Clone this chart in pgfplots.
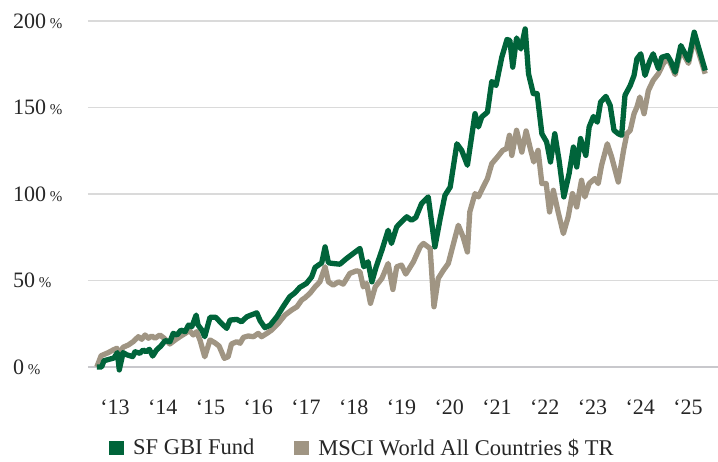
\documentclass[border=0pt]{standalone}
\usepackage{fontspec}
\setmainfont{Liberation Serif}
\usepackage{pgfplots}
\usepackage{pgfplotstable}
\pgfplotsset{compat=1.18}
\definecolor{fundgreen}{HTML}{00643A}
\definecolor{msci}{HTML}{A09583}
\definecolor{gridgray}{HTML}{DADADA}
\definecolor{zerogray}{HTML}{C8C8CC}
\newcommand\pct{\,{\fontsize{15}{15}\selectfont\%}}

\pgfplotstableread{
x y
2012.62 0
2012.72 0
2012.77 3.6
2012.90 4.6
2012.98 5.2
2013.05 8.3
2013.09 -1.7
2013.17 8.3
2013.25 7.0
2013.37 6.0
2013.42 8.8
2013.52 7.9
2013.59 9.8
2013.65 8.8
2013.72 10.2
2013.79 6.3
2013.87 9.8
2013.96 12.1
2014.05 15.2
2014.15 14.6
2014.22 19.4
2014.30 18.5
2014.38 21.3
2014.47 20.4
2014.54 24.2
2014.61 23.3
2014.70 30.0
2014.74 24.2
2014.82 21.3
2014.88 17.5
2014.99 28.7
2015.11 28.7
2015.23 25.2
2015.34 22.3
2015.41 27.1
2015.55 27.5
2015.65 26.1
2015.76 29.0
2015.85 30.0
2015.97 31.3
2016.04 26.7
2016.14 22.7
2016.25 24.2
2016.39 29.0
2016.52 34.8
2016.66 40.6
2016.77 42.9
2016.87 46.0
2017.01 48.3
2017.12 52.1
2017.19 57.5
2017.33 60.2
2017.40 69.4
2017.47 60.2
2017.57 59.8
2017.71 59.4
2017.85 62.7
2017.99 65.6
2018.13 68.5
2018.21 57.9
2018.30 60.8
2018.38 49.2
2018.47 57.9
2018.59 67.5
2018.72 79.0
2018.79 71.4
2018.90 81.0
2019.00 83.9
2019.11 86.8
2019.21 84.8
2019.30 86.4
2019.42 94.4
2019.56 98.3
2019.70 69.4
2019.81 85.8
2019.91 99.2
2020.02 104.0
2020.16 129.0
2020.26 125.2
2020.38 116.6
2020.54 146.4
2020.61 138.7
2020.68 144.5
2020.80 147.3
2020.89 165.0
2020.98 162.7
2021.10 179.0
2021.21 189.3
2021.27 188.7
2021.33 173.3
2021.41 190.2
2021.50 183.8
2021.59 195.4
2021.66 169.5
2021.76 158.0
2021.84 158.0
2021.94 134.8
2022.04 130.0
2022.12 118.5
2022.21 134.8
2022.30 119.4
2022.40 98.3
2022.51 111.8
2022.60 127.1
2022.67 115.6
2022.75 132.0
2022.86 122.3
2022.93 138.7
2023.02 144.8
2023.10 141.5
2023.17 153.1
2023.28 156.4
2023.37 151.2
2023.45 136.8
2023.54 134.8
2023.61 133.9
2023.68 157.0
2023.79 162.7
2023.87 168.5
2023.93 178.1
2024.01 181.0
2024.10 168.5
2024.19 176.2
2024.27 181.0
2024.38 172.4
2024.45 179.0
2024.57 180.0
2024.64 176.7
2024.73 170.4
2024.85 185.8
2024.94 181.0
2025.01 177.2
2025.13 193.5
2025.22 184.8
2025.36 171.4
}\fundtable

\pgfplotstableread{
x y
2012.62 0
2012.71 6.5
2012.86 8.3
2012.96 9.8
2013.04 10.8
2013.08 6.9
2013.17 11.4
2013.28 12.7
2013.38 14.6
2013.49 17.5
2013.56 16.0
2013.63 18.5
2013.70 16.6
2013.77 17.9
2013.84 16.6
2013.94 18.5
2014.03 16.6
2014.15 13.3
2014.26 15.6
2014.36 17.5
2014.47 19.4
2014.56 21.0
2014.64 18.5
2014.71 20.4
2014.78 15.6
2014.82 11.7
2014.88 5.9
2014.99 15.6
2015.09 14.0
2015.18 12.1
2015.29 5.0
2015.37 5.9
2015.44 13.3
2015.55 14.6
2015.62 13.7
2015.69 17.1
2015.79 17.9
2015.90 17.5
2016.00 19.4
2016.07 17.5
2016.18 19.4
2016.28 21.3
2016.42 25.2
2016.56 30.0
2016.70 32.9
2016.81 34.8
2016.91 38.7
2016.98 40.0
2017.08 42.5
2017.19 46.3
2017.29 49.2
2017.40 57.9
2017.47 49.2
2017.57 47.3
2017.68 49.2
2017.78 47.9
2017.92 54.1
2018.06 55.6
2018.13 55.0
2018.20 46.3
2018.27 48.3
2018.35 36.8
2018.45 46.3
2018.59 51.2
2018.72 59.8
2018.82 44.8
2018.90 57.9
2019.00 58.9
2019.09 53.7
2019.25 60.8
2019.39 69.4
2019.46 71.4
2019.60 68.5
2019.68 34.8
2019.77 51.2
2019.88 56.0
2019.98 59.8
2020.08 70.4
2020.19 81.9
2020.29 75.2
2020.38 66.5
2020.43 89.6
2020.54 100.2
2020.61 98.3
2020.71 104.0
2020.80 108.9
2020.89 117.5
2021.01 121.4
2021.12 125.2
2021.20 126.2
2021.26 133.9
2021.31 122.3
2021.41 136.8
2021.52 124.2
2021.61 136.4
2021.69 127.1
2021.77 118.5
2021.86 125.2
2021.94 106.0
2022.03 106.0
2022.10 89.6
2022.18 102.1
2022.28 89.6
2022.39 77.1
2022.49 86.7
2022.58 100.2
2022.67 92.5
2022.77 107.9
2022.84 98.3
2022.93 106.0
2023.05 108.9
2023.12 106.0
2023.19 116.6
2023.31 129.0
2023.40 121.4
2023.54 106.9
2023.65 125.2
2023.72 134.8
2023.79 136.8
2023.87 146.4
2023.93 150.2
2023.99 156.0
2024.08 146.4
2024.17 159.8
2024.27 165.6
2024.38 169.5
2024.48 175.2
2024.57 178.5
2024.64 175.0
2024.73 169.0
2024.85 183.0
2024.94 179.0
2025.01 175.5
2025.13 190.0
2025.22 182.0
2025.36 169.5
}\mscitable

\begin{document}
\begin{tikzpicture}
\useasboundingbox (-88pt,-80.2pt) rectangle (630pt,380.8pt);
\begin{axis}[
  scale only axis,
  width=630pt, height=368.5pt,
  xmin=2012.435, xmax=2025.628,
  ymin=-8, ymax=205,
  axis line style={draw=none},
  major tick length=0pt,
  xtick={2013,2014,2015,2016,2017,2018,2019,2020,2021,2022,2023,2024,2025},
  xticklabels={‘13,‘14,‘15,‘16,‘17,‘18,‘19,‘20,‘21,‘22,‘23,‘24,‘25},
  ytick={50,100,150,200},
  yticklabels={50\pct,100\pct,150\pct,200\pct},
  extra y ticks={0},
  extra y tick labels={0\pct},
  extra y tick style={grid style={draw=zerogray, line width=2.6pt}},
  ymajorgrids,
  grid style={draw=gridgray, line width=1.6pt},
  every tick label/.append style={font=\fontsize{22}{24}\selectfont, text=black!85},
  yticklabel style={anchor=west, inner sep=0pt, xshift=-75pt},
  xticklabel style={anchor=north, inner sep=0pt, yshift=-19pt},
  legend columns=2,
  legend style={draw=none, fill=none, at={(axis description cs:0,0)}, anchor=west,
    xshift=21pt, yshift=-67pt, inner sep=0pt,
    font=\fontsize{22.5}{24}\selectfont, text=black!85,
    nodes={inner sep=0pt, anchor=west},
    /tikz/every odd column/.append style={column sep=9pt},
    /tikz/every even column/.append style={column sep=40pt}},
  legend image code/.code={\fill[#1,draw=none] (0pt,-7pt) rectangle (15pt,7pt);},
  every axis plot/.append style={line width=5.3pt, line join=round},
]
\addlegendimage{fill=fundgreen}
\addlegendentry{SF GBI Fund}
\addlegendimage{fill=msci}
\addlegendentry{MSCI World All Countries \$ TR}
\addplot[msci, forget plot] table[x=x,y=y] {\mscitable};
\addplot[fundgreen, forget plot] table[x=x,y=y] {\fundtable};
\end{axis}
\end{tikzpicture}
\end{document}
